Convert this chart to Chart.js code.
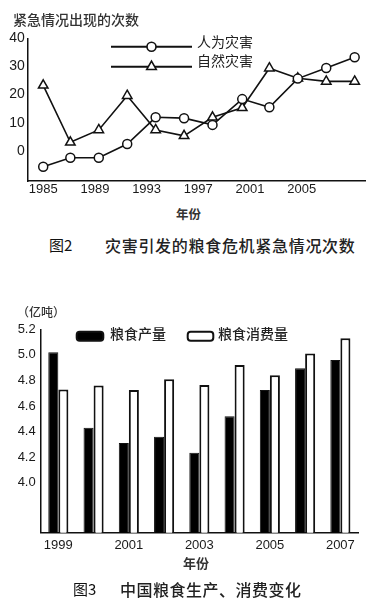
<!DOCTYPE html>
<html><head><meta charset="utf-8">
<script src="https://cdn.jsdelivr.net/npm/chart.js@4.4.0/dist/chart.umd.min.js"></script>
<style>
html,body{margin:0;padding:0;background:#fff;}
body{width:374px;height:604px;position:relative;overflow:hidden;font-family:"Noto Sans CJK SC","Noto Sans",sans-serif;color:#222;}
.t{position:absolute;white-space:nowrap;line-height:20px;height:20px;}
#c1w{position:absolute;left:0;top:0;width:374px;height:200px;}
#c2w{position:absolute;left:0;top:290px;width:374px;height:270px;}
</style></head><body>
<div id="c1w"><canvas id="c1"></canvas></div>
<div id="c2w"><canvas id="c2"></canvas></div>
<div class="t" style="left:13px;top:9px;font-size:14px;font-weight:500;color:#333">紧急情况出现的次数</div>
<div class="t" style="left:176px;top:204px;font-size:12.5px;font-weight:bold;color:#333">年份</div>
<div class="t" style="left:49px;top:235px;font-size:15px;color:#111">图2</div>
<div class="t" style="left:105px;top:235px;font-size:16px;font-weight:500;letter-spacing:0.7px;color:#222">灾害引发的粮食危机紧急情况次数</div>
<div class="t" style="left:17px;top:302px;font-size:12px;font-weight:500;color:#333">（亿吨）</div>
<div class="t" style="left:183px;top:553px;font-size:13px;font-weight:bold;color:#333">年份</div>
<div class="t" style="left:73px;top:579px;font-size:15px;color:#111">图3</div>
<div class="t" style="left:120px;top:579px;font-size:16px;font-weight:500;letter-spacing:0.5px;color:#222">中国粮食生产、消费变化</div>
<script>
// ---- Figure 2 data ----
const lineYears = [1985, 1987.1, 1989.3, 1991.5, 1993.7, 1995.9, 1998.1, 2000.4, 2002.5, 2004.7, 2006.9, 2009.1];
const humanDisasters = [-5.7, -2.5, -2.5, 2.4, 11.9, 11.6, 9.2, 18.4, 15.5, 25.7, 29.5, 33.3];
const naturalDisasters = [23.3, 3.0, 7.4, 19.6, 7.4, 5.3, 11.9, 15.3, 29.4, 25.8, 24.7, 24.7];
const lineXTicks = [1985, 1989, 1993, 1997, 2001, 2005];
const lineYTicks = [0, 10, 20, 30, 40];
const lineSeriesNames = ['人为灾害', '自然灾害'];

// ---- Figure 3 data ----
const barYears = ['1999', '2000', '2001', '2002', '2003', '2004', '2005', '2006', '2007'];
const grainProduction = [5.02, 4.43, 4.31, 4.36, 4.235, 4.52, 4.725, 4.895, 4.96];
const grainConsumption = [4.73, 4.76, 4.725, 4.81, 4.765, 4.92, 4.84, 5.01, 5.13];
const barXLabels = ['1999', '2001', '2003', '2005', '2007'];
const barYTicks = [4.0, 4.2, 4.4, 4.6, 4.8, 5.0, 5.2];
const barSeriesNames = ['粮食产量', '粮食消费量'];

const INK = '#111';
const numFont = {family: '"Liberation Sans", Arial, sans-serif', size: 13};

const customLegend = {
  id: 'customLegend',
  afterDraw(chart, args, opts) {
    const ctx = chart.ctx;
    ctx.save();
    opts.items.forEach((it, i) => {
      const ds = chart.data.datasets[i];
      if (it.type === 'line') {
        ctx.strokeStyle = INK;
        ctx.lineWidth = 2;
        ctx.beginPath();
        ctx.moveTo(it.x1, it.y);
        ctx.lineTo(it.x2, it.y);
        ctx.stroke();
        ctx.fillStyle = '#fff';
        ctx.strokeStyle = INK;
        ctx.lineWidth = 1.6;
        Chart.helpers.drawPoint(ctx, {pointStyle: ds.pointStyle, radius: ds.pointRadius, rotation: 0, borderWidth: 1.6}, (it.x1 + it.x2) / 2, it.y);
      } else {
        ctx.beginPath();
        if (ctx.roundRect) ctx.roundRect(it.x, it.y, it.w, it.h, 3); else ctx.rect(it.x, it.y, it.w, it.h);
        ctx.fillStyle = ds.backgroundColor;
        ctx.fill();
        ctx.lineWidth = 2;
        ctx.strokeStyle = INK;
        ctx.stroke();
      }
      ctx.fillStyle = '#222';
      ctx.font = (it.weight || 'normal') + ' 14px "Noto Sans CJK SC", sans-serif';
      ctx.textBaseline = 'middle';
      ctx.textAlign = 'left';
      ctx.fillText(ds.label, it.tx, it.ty);
    });
    ctx.restore();
  }
};

new Chart(document.getElementById('c1'), {
  type: 'line',
  data: {
    datasets: [
      {label: lineSeriesNames[0], data: lineYears.map((x, i) => ({x, y: humanDisasters[i]})),
       borderColor: INK, borderWidth: 1.6, pointStyle: 'circle', pointRadius: 4.5,
       pointBackgroundColor: '#fff', pointBorderColor: INK, pointBorderWidth: 1.5, tension: 0, clip: false},
      {label: lineSeriesNames[1], data: lineYears.map((x, i) => ({x, y: naturalDisasters[i]})),
       borderColor: INK, borderWidth: 1.6, pointStyle: 'triangle', pointRadius: 5.5,
       pointBackgroundColor: '#fff', pointBorderColor: INK, pointBorderWidth: 1.5, tension: 0, clip: false}
    ]
  },
  options: {
    responsive: true, maintainAspectRatio: false, animation: false,
    layout: {padding: {top: 38.5, right: 9, left: 0, bottom: 0}},
    plugins: {
      legend: {display: false}, tooltip: {enabled: false},
      customLegend: {items: [
        {type: 'line', x1: 111, x2: 192, y: 46.7, tx: 197, ty: 42},
        {type: 'line', x1: 111, x2: 192, y: 66.7, tx: 197, ty: 61}
      ]}
    },
    scales: {
      x: {type: 'linear', min: 1983.8, max: 2009.9,
          grid: {display: false, drawTicks: false}, border: {display: true, color: INK, width: 1.5},
          afterBuildTicks: s => { s.ticks = lineXTicks.map(v => ({value: v})); },
          afterFit: s => { s.height = 19; },
          ticks: {padding: 1, color: '#1a1a1a', font: numFont, maxRotation: 0, autoSkip: false, callback: v => String(v)}},
      y: {type: 'linear', min: -10.8, max: 40,
          grid: {display: false, drawTicks: false}, border: {display: true, color: INK, width: 1.5},
          afterBuildTicks: s => { s.ticks = lineYTicks.map(v => ({value: v})); },
          afterFit: s => { s.width = 27.7; },
          ticks: {padding: 3, color: '#1a1a1a', font: {family: numFont.family, size: 14}, callback: v => String(v)}}
    }
  },
  plugins: [customLegend]
});

new Chart(document.getElementById('c2'), {
  type: 'bar',
  data: {
    labels: barYears,
    datasets: [
      {label: barSeriesNames[0], data: grainProduction, backgroundColor: '#000', borderColor: INK, borderWidth: 1,
       categoryPercentage: 0.57, barPercentage: 1.0},
      {label: barSeriesNames[1], data: grainConsumption, backgroundColor: '#fff', borderColor: INK, borderWidth: 2,
       categoryPercentage: 0.57, barPercentage: 1.0}
    ]
  },
  options: {
    responsive: true, maintainAspectRatio: false, animation: false,
    layout: {padding: {top: 39.3, right: 16, left: 0, bottom: 0}},
    plugins: {
      legend: {display: false}, tooltip: {enabled: false},
      customLegend: {items: [
        {type: 'box', x: 76.7, y: 41.7, w: 26.6, h: 9, tx: 110, ty: 44, weight: 500},
        {type: 'box', x: 187.7, y: 41.7, w: 25.6, h: 9, tx: 218, ty: 44, weight: 500}
      ]}
    },
    scales: {
      x: {grid: {display: false, drawTicks: false}, border: {display: true, color: INK, width: 1.5},
          afterFit: s => { s.height = 27.3; },
          ticks: {padding: 4.5, color: '#1a1a1a', font: numFont, maxRotation: 0, autoSkip: false,
                  callback: function(v) { const l = this.getLabelForValue(v); return barXLabels.includes(l) ? l : ''; }}},
      y: {type: 'linear', min: 3.609, max: 5.2,
          grid: {display: false, drawTicks: false}, border: {display: true, color: INK, width: 1.5},
          afterBuildTicks: s => { s.ticks = barYTicks.map(v => ({value: v})); },
          afterFit: s => { s.width = 40.7; },
          ticks: {padding: 5, color: '#1a1a1a', font: numFont, callback: v => v.toFixed(1)}}
    }
  },
  plugins: [customLegend]
});
</script>
</body></html>
